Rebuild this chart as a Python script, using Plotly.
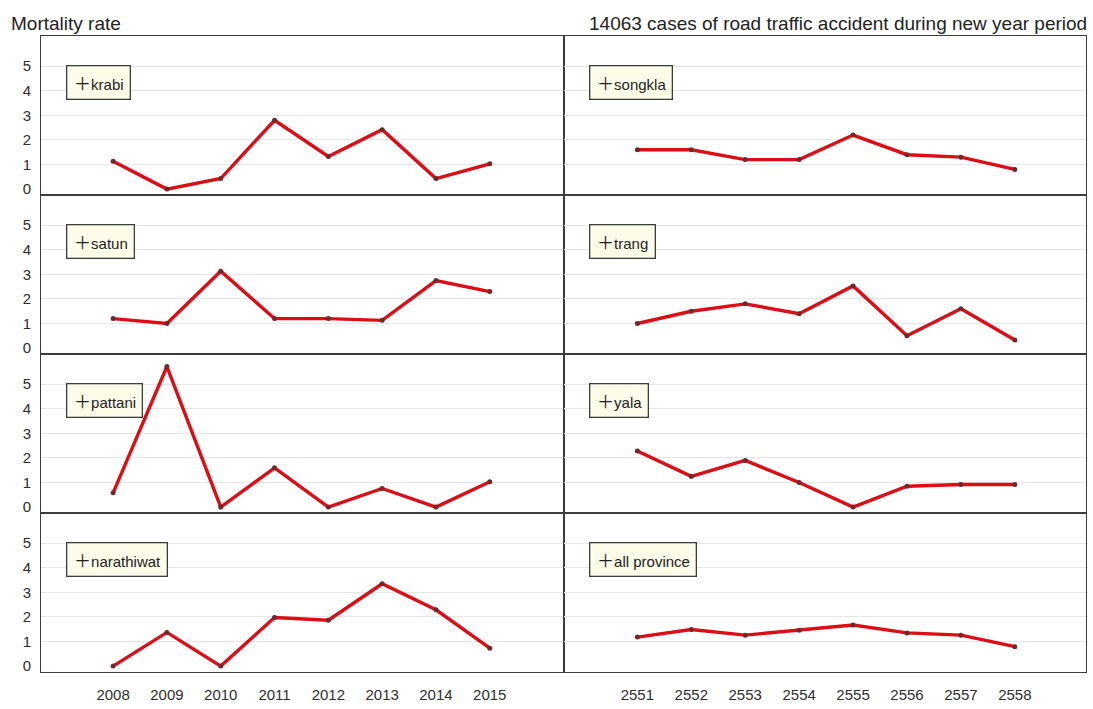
import plotly.graph_objects as go
from plotly.subplots import make_subplots

# Gregorian years (left column) and Thai Buddhist-era years (right column)
years_ad = [2008, 2009, 2010, 2011, 2012, 2013, 2014, 2015]
years_be = [2551, 2552, 2553, 2554, 2555, 2556, 2557, 2558]

# Mortality rate per province
krabi = [1.13, 0.0, 0.43, 2.8, 1.33, 2.42, 0.43, 1.03]
satun = [1.2, 1.0, 3.13, 1.2, 1.2, 1.13, 2.75, 2.3]
pattani = [0.58, 5.72, 0.0, 1.6, 0.0, 0.76, 0.0, 1.03]
narathiwat = [0.0, 1.37, 0.0, 1.98, 1.87, 3.35, 2.29, 0.73]
songkla = [1.6, 1.6, 1.2, 1.2, 2.2, 1.4, 1.3, 0.8]
trang = [1.0, 1.5, 1.8, 1.4, 2.53, 0.5, 1.6, 0.33]
yala = [2.28, 1.25, 1.9, 1.0, 0.0, 0.85, 0.92, 0.92]
all_province = [1.18, 1.49, 1.26, 1.46, 1.67, 1.35, 1.26, 0.79]

left_panels = [("krabi", krabi), ("satun", satun), ("pattani", pattani), ("narathiwat", narathiwat)]
right_panels = [("songkla", songkla), ("trang", trang), ("yala", yala), ("all province", all_province)]

y_ticks = [0, 1, 2, 3, 4, 5]

LINE_RED = "#dc0d14"
DOT = "#6e2a2a"
FRAME = "#3c3c3c"
GRID = "#e6e6e6"
TXT = "#2e2e2e"
FONT = "Liberation Sans, Arial, sans-serif"
PLUS_FONT = "Noto Sans CJK SC"

fig = make_subplots(rows=4, cols=2, horizontal_spacing=0, vertical_spacing=0)

for col, (xs, panels) in enumerate([(years_ad, left_panels), (years_be, right_panels)], start=1):
    for row, (name, vals) in enumerate(panels, start=1):
        fig.add_trace(
            go.Scatter(
                x=xs, y=vals, mode="lines+markers", name=name,
                line=dict(color=LINE_RED, width=3.4),
                marker=dict(color=DOT, size=5),
                showlegend=False,
            ),
            row=row, col=col,
        )

# Legend-style label box in the top-left corner of every panel
pad_l = "<span style='font-size:10px'>&nbsp;</span>"
pad_r = "<span style='font-size:7px'>&nbsp;</span>"
for trace in fig.data:
    fig.add_annotation(
        xref=trace.xaxis + " domain", yref=trace.yaxis + " domain",
        x=0.048, y=0.815, xanchor="left", yanchor="top",
        text=f"{pad_l}<span style='font-family:{PLUS_FONT};font-size:17px'>＋</span>{trace.name}{pad_r}",
        showarrow=False, height=24, valign="middle",
        font=dict(family=FONT, size=15, color="#222222"),
        bgcolor="#fcfce9", bordercolor=FRAME, borderwidth=1.3, borderpad=4,
    )

for row in range(1, 5):
    for col in (1, 2):
        fig.update_xaxes(
            row=row, col=col,
            range=[2006.66, 2016.37] if col == 1 else [2549.63, 2559.32],
            tickvals=(years_ad if col == 1 else years_be),
            showticklabels=(row == 4),
            showgrid=False, zeroline=False,
            showline=True, linecolor=FRAME, linewidth=1, mirror=True,
            ticks="", ticklabelstandoff=9,
            tickfont=dict(family=FONT, size=15, color=TXT),
        )
        fig.update_yaxes(
            row=row, col=col,
            range=[-0.24, 6.23],
            tickvals=y_ticks,
            showticklabels=(col == 1),
            showgrid=False, zeroline=False,
            minor=dict(tickvals=y_ticks[1:], showgrid=True, gridcolor=GRID, gridwidth=1.2),
            showline=True, linecolor=FRAME, linewidth=1, mirror=True,
            ticks="", ticklabelstandoff=6,
            tickfont=dict(family=FONT, size=15, color=TXT),
        )

fig.add_annotation(
    xref="paper", yref="paper", x=0, y=1, xshift=-32, yshift=13,
    xanchor="left", yanchor="middle", showarrow=False,
    text="Mortality rate", font=dict(family=FONT, size=19, color="#222222"),
)
fig.add_annotation(
    xref="paper", yref="paper", x=1, y=1, xshift=3, yshift=13,
    xanchor="right", yanchor="middle", showarrow=False,
    text="14063 cases of road traffic accident during new year period",
    font=dict(family=FONT, size=19, color="#222222"),
)

fig.update_layout(
    width=1093, height=709,
    margin=dict(l=41, r=6, t=36, b=27),
    paper_bgcolor="white", plot_bgcolor="white",
    font=dict(family=FONT, color=TXT),
)

fig.write_html("out.html")
